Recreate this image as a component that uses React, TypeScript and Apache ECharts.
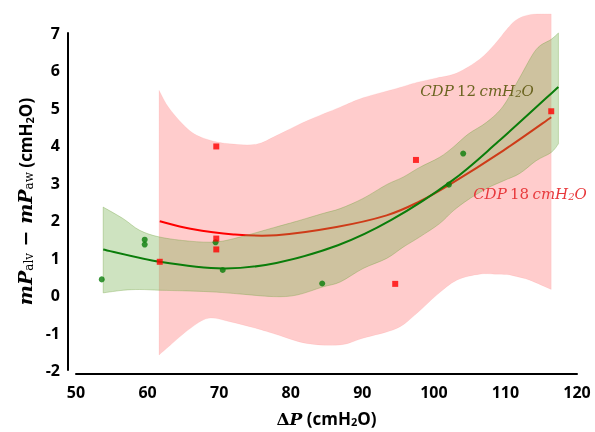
import React, { useEffect, useRef } from "react";
import * as echarts from "echarts";

// ---- data ----
const cdp12Points: number[][] = [
  [53.6, 0.42], [59.6, 1.48], [59.6, 1.35], [69.5, 1.41], [70.5, 0.67],
  [84.4, 0.31], [102.1, 2.95], [104.1, 3.78],
];
const cdp18Points: number[][] = [
  [61.7, 0.89], [69.6, 3.97], [69.6, 1.51], [69.6, 1.22], [94.6, 0.3],
  [97.5, 3.61], [116.4, 4.91],
];
const cdp12Fit: number[][] = [
  [53.8, 1.22], [61.7, 0.89], [70.6, 0.71], [78, 0.86], [86.6, 1.33],
  [94, 2.0], [102.5, 3.05], [109, 4.1], [117.4, 5.56],
];
const cdp18Fit: number[][] = [
  [61.7, 1.97], [66, 1.77], [72, 1.62], [78, 1.6], [86.4, 1.82], [93.4, 2.13],
  [98, 2.5], [102.2, 2.95], [109.7, 3.86], [116.4, 4.75],
];
const cdp12BandX = [53.8, 56.6, 58.9, 61.7, 65.9, 69.6, 72.9, 77.6, 80.8, 84.5, 86.9, 90.1, 93.4, 95.7, 98.0, 100.8, 102.7, 104.8, 107.4, 109.7, 112.0, 114.3, 116.4, 117.4];
const cdp12BandLow = [0.06, 0.13, 0.15, 0.13, 0.11, 0.08, 0.03, -0.04, 0.0, 0.22, 0.35, 0.71, 0.98, 1.28, 1.55, 1.91, 2.25, 2.55, 2.85, 3.05, 3.25, 3.59, 3.81, 4.04];
const cdp12BandHigh = [2.35, 2.04, 1.73, 1.55, 1.44, 1.42, 1.55, 1.8, 1.97, 2.18, 2.31, 2.58, 2.95, 3.15, 3.41, 3.68, 3.95, 4.3, 4.62, 5.05, 5.81, 6.56, 6.83, 7.0];
const cdp18BandX = [61.6, 63.1, 65.9, 68.5, 71.5, 75.2, 78.0, 82.2, 86.9, 90.1, 94.8, 97.6, 100.4, 103.2, 106.4, 108.5, 110.2, 111.5, 113.4, 116.4];
const cdp18BandLow = [-1.6, -1.35, -0.9, -0.62, -0.71, -0.89, -1.05, -1.29, -1.33, -1.15, -0.89, -0.49, 0.0, 0.4, 0.56, 0.56, 0.55, 0.5, 0.4, 0.15];
const cdp18BandHigh = [5.47, 4.97, 4.39, 4.15, 4.04, 4.03, 4.26, 4.65, 5.02, 5.27, 5.52, 5.68, 5.8, 5.93, 6.3, 6.7, 7.1, 7.35, 7.49, 7.51];

const X_MIN = 50, X_MAX = 120, X_STEP = 10;
const Y_MIN = -2, Y_MAX = 7, Y_STEP = 1;

// Catmull-Rom spline through pixel points
function splineTo(ctx: any, pts: number[][]) {
  for (let i = 0; i < pts.length - 1; i++) {
    const p0 = pts[i - 1] || pts[i];
    const p1 = pts[i];
    const p2 = pts[i + 1];
    const p3 = pts[i + 2] || p2;
    ctx.bezierCurveTo(
      p1[0] + (p2[0] - p0[0]) / 6, p1[1] + (p2[1] - p0[1]) / 6,
      p2[0] - (p3[0] - p1[0]) / 6, p2[1] - (p3[1] - p1[1]) / 6,
      p2[0], p2[1]
    );
  }
}
echarts.graphic.registerShape("ciBand", echarts.graphic.extendShape({
  shape: { top: [] as number[][], bottom: [] as number[][] },
  buildPath(ctx: any, shape: any) {
    const top = shape.top, bot = shape.bottom;
    if (!top.length) return;
    ctx.moveTo(top[0][0], top[0][1]);
    splineTo(ctx, top);
    ctx.lineTo(bot[bot.length - 1][0], bot[bot.length - 1][1]);
    splineTo(ctx, bot.slice().reverse());
    ctx.closePath();
  },
}));
echarts.graphic.registerShape("fitCurve", echarts.graphic.extendShape({
  shape: { points: [] as number[][] },
  style: { fill: null },
  buildPath(ctx: any, shape: any) {
    const p = shape.points;
    if (!p.length) return;
    ctx.moveTo(p[0][0], p[0][1]);
    splineTo(ctx, p);
  },
}));

function band(name: string, xs: number[], lo: number[], hi: number[], fill: string, edge: string, z: number) {
  return {
    type: "custom", name, coordinateSystem: "cartesian2d", z, clip: false, silent: true,
    data: xs.map((x, i) => [x, lo[i], hi[i]]),
    encode: { x: 0, y: [1, 2] },
    renderItem: (params: any, api: any) => {
      if (params.dataIndex !== 0) return null;
      const top = xs.map((x, i) => api.coord([x, hi[i]]));
      const bottom = xs.map((x, i) => api.coord([x, lo[i]]));
      return { type: "ciBand", shape: { top, bottom }, style: { fill, stroke: edge, lineWidth: 1 } };
    },
  };
}
function curve(name: string, pts: number[][], color: string, z: number) {
  return {
    type: "custom", name, coordinateSystem: "cartesian2d", z, clip: false, silent: true,
    data: pts,
    encode: { x: 0, y: 1 },
    renderItem: (params: any, api: any) => {
      if (params.dataIndex !== 0) return null;
      return {
        type: "fitCurve",
        shape: { points: pts.map((p) => api.coord(p)) },
        style: { fill: "none", stroke: color, lineWidth: 2 },
      };
    },
  };
}

export default function App() {
  const ref = useRef<HTMLDivElement>(null);
  useEffect(() => {
    const chart = echarts.init(ref.current!, undefined, { renderer: "svg" });
    const tickFont = { fontFamily: "Open Sans", fontWeight: "bold" as const, fontSize: 16, color: "#000" };
    chart.setOption({
      animation: false,
      grid: { left: 76, right: 18, top: 33, bottom: 62 },
      xAxis: {
        type: "value", min: X_MIN, max: X_MAX, interval: X_STEP, offset: 4,
        axisLine: { onZero: false, lineStyle: { color: "#000", width: 2 } },
        axisTick: { show: false }, splitLine: { show: false },
        axisLabel: { ...tickFont, margin: 10 },
        name: "{d|Δ}{p|P}{u| (cmH}{us|2}{u|O)}",
        nameLocation: "middle", nameGap: 36,
        nameTextStyle: {
          rich: {
            d: { fontFamily: "DejaVu Serif", fontWeight: "bold", fontSize: 17, color: "#000" },
            p: { fontFamily: "DejaVu Serif", fontWeight: "bold", fontStyle: "italic", fontSize: 17, color: "#000" },
            u: { fontFamily: "Open Sans", fontWeight: "bold", fontSize: 17, color: "#000" },
            us: { fontFamily: "Open Sans", fontWeight: "bold", fontSize: 11, color: "#000", verticalAlign: "bottom" },
          },
        },
      },
      yAxis: {
        type: "value", min: Y_MIN, max: Y_MAX, interval: Y_STEP, offset: 8,
        axisLine: { show: true, onZero: false, lineStyle: { color: "#000", width: 2 } },
        axisTick: { show: false }, splitLine: { show: false },
        axisLabel: { ...tickFont, margin: 8 },
        name: "{m|mP}{s|alv}{m| − mP}{s|aw}{u| (cmH}{us|2}{u|O)}",
        nameLocation: "middle", nameGap: 33, nameRotate: 90,
        nameTextStyle: {
          rich: {
            m: { fontFamily: "DejaVu Serif", fontWeight: "bold", fontStyle: "italic", fontSize: 19, color: "#000" },
            s: { fontFamily: "DejaVu Serif", fontSize: 12, color: "#000", verticalAlign: "bottom" },
            u: { fontFamily: "Open Sans", fontWeight: "bold", fontSize: 17, color: "#000" },
            us: { fontFamily: "Open Sans", fontWeight: "bold", fontSize: 11, color: "#000", verticalAlign: "bottom" },
          },
        },
      },
      series: [
        band("cdp18 band", cdp18BandX, cdp18BandLow, cdp18BandHigh, "rgba(255,0,0,0.2)", "rgba(255,0,0,0.06)", 1),
        curve("CDP 18 fit", cdp18Fit, "#ff0000", 2),
        band("cdp12 band", cdp12BandX, cdp12BandLow, cdp12BandHigh, "rgba(112,173,71,0.34)", "rgba(112,160,60,0.35)", 3),
        curve("CDP 12 fit", cdp12Fit, "#0a7d0a", 4),
        {
          type: "scatter", name: "CDP 12", z: 5, symbol: "circle", symbolSize: 6,
          itemStyle: { color: "#0a7d0a" }, data: cdp12Points,
        },
        {
          type: "scatter", name: "CDP 18", z: 6, symbol: "rect", symbolSize: 6,
          itemStyle: { color: "#ff0000" }, data: cdp18Points,
        },
      ],
      graphic: [
        {
          type: "text", x: 477, y: 91, z: 10,
          style: {
            text: "{i|CDP} {n|12} {i|cmH}{s|2}{i|O}",
            align: "center", verticalAlign: "middle",
            rich: {
              i: { fontFamily: "DejaVu Serif", fontStyle: "italic", fontSize: 15, fill: "#6b6420" },
              n: { fontFamily: "DejaVu Serif", fontSize: 15, fill: "#6b6420" },
              s: { fontFamily: "DejaVu Serif", fontStyle: "italic", fontSize: 10, fill: "#6b6420", verticalAlign: "bottom" },
            },
          },
        },
        {
          type: "text", x: 530, y: 194, z: 10,
          style: {
            text: "{i|CDP} {n|18} {i|cmH}{s|2}{i|O}",
            align: "center", verticalAlign: "middle",
            rich: {
              i: { fontFamily: "DejaVu Serif", fontStyle: "italic", fontSize: 15, fill: "#e8393c" },
              n: { fontFamily: "DejaVu Serif", fontSize: 15, fill: "#e8393c" },
              s: { fontFamily: "DejaVu Serif", fontStyle: "italic", fontSize: 10, fill: "#e8393c", verticalAlign: "bottom" },
            },
          },
        },
      ],
    });
    return () => chart.dispose();
  }, []);
  return <div ref={ref} style={{ position: "fixed", left: 0, top: 0, width: 595, height: 432 }} />;
}
